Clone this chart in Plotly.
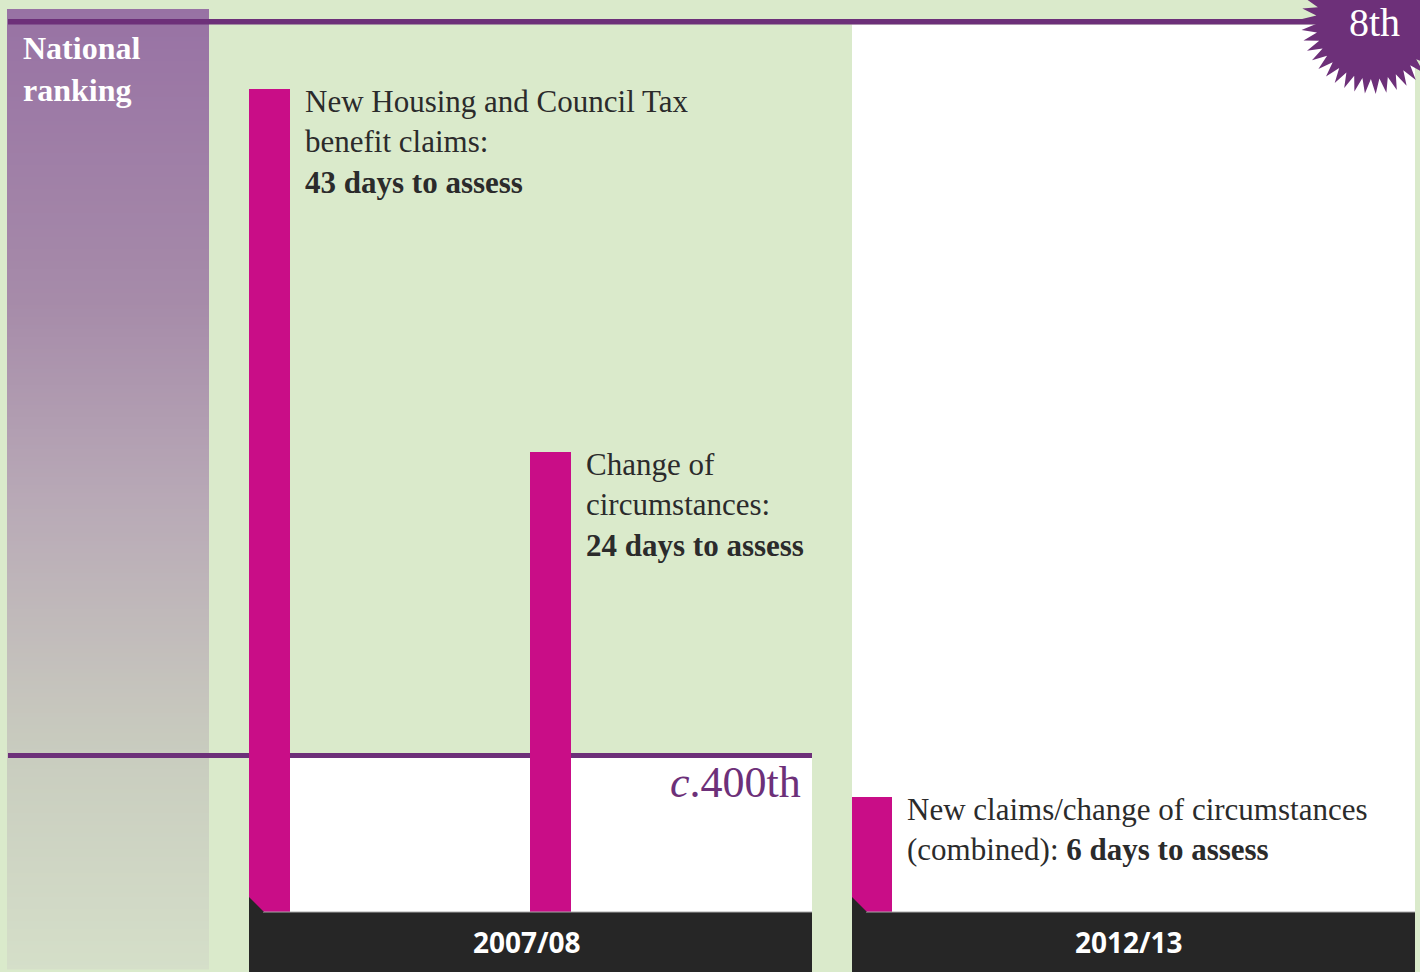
import numpy as np
import plotly.graph_objects as go

# ---- data ----
periods = ["2007/08", "2012/13"]
claim_types = [
    "New Housing and Council Tax benefit claims:",
    "Change of circumstances:",
    "New claims/change of circumstances (combined):",
]
days_to_assess = [43, 24, 6]
bar_period = ["2007/08", "2007/08", "2012/13"]
national_ranking = ["c.400th", "8th"]

# ---- canvas (pixel coordinates, y grows downward) ----
W, H = 1420, 972
BASE_Y = 912            # pixel row of the zero-day baseline
PX_PER_DAY = 19.15      # vertical scale of the day bars

BG = "#daeacb"
PURPLE = "#6d3079"
MAGENTA = "#c90d87"
DARK = "#262626"
TEXT = "#2b2b2b"
SERIF = "Liberation Serif"
SANS = "Open Sans"

bar_x = [269.5, 550.5, 872.0]     # bar centres
bar_w = [41, 41, 40]
label_x = [303, 584, 905]
band_x = {"2007/08": (249, 812), "2012/13": (852, 1415)}
band_label_x = {"2007/08": 527, "2012/13": 1129}

shapes = []

# left "National ranking" column with a vertical colour fade
stops_y = [9, 300, 500, 700, 760, 972]
stops_c = [(152, 114, 164), (166, 139, 169), (184, 169, 182),
           (198, 197, 189), (201, 205, 191), (213, 223, 201)]
edges = np.arange(9, H + 1, 4)
for y0, y1 in zip(edges[:-1], edges[1:]):
    ym = (y0 + y1) / 2
    rgb = [int(round(np.interp(ym, stops_y, [c[k] for c in stops_c]))) for k in range(3)]
    shapes.append(dict(type="rect", xref="x", yref="y", x0=7, x1=209, y0=y0, y1=y1 + 0.6,
                       fillcolor="rgb(%d,%d,%d)" % tuple(rgb), line_width=0, layer="below"))

# white panels
shapes.append(dict(type="rect", xref="x", yref="y", x0=852, x1=1415, y0=24.5, y1=BASE_Y,
                   fillcolor="white", line_width=0, layer="below"))
shapes.append(dict(type="rect", xref="x", yref="y", x0=249, x1=812, y0=757, y1=BASE_Y,
                   fillcolor="white", line_width=0, layer="below"))

# purple ranking rules
shapes.append(dict(type="rect", xref="x", yref="y", x0=8, x1=1330, y0=19, y1=24.5,
                   fillcolor=PURPLE, line_width=0, layer="below"))
shapes.append(dict(type="rect", xref="x", yref="y", x0=8, x1=812, y0=753, y1=758,
                   fillcolor=PURPLE, line_width=0, layer="below"))

# dark period bands with a thin light edge
for p in periods:
    xa, xb = band_x[p]
    shapes.append(dict(type="rect", xref="x", yref="y", x0=xa, x1=xb, y0=BASE_Y, y1=H,
                       fillcolor=DARK, line_width=0, layer="above"))
    shapes.append(dict(type="line", xref="x", yref="y", x0=xa + 14, x1=xb, y0=BASE_Y, y1=BASE_Y,
                       line=dict(color="#a8a8a8", width=1), layer="above"))
    # folded corner at the foot of the first bar in each band
    shapes.append(dict(type="path", xref="x", yref="y",
                       path=f"M {xa},{BASE_Y - 15} L {xa + 15},{BASE_Y} L {xa},{BASE_Y} Z",
                       fillcolor=DARK, line_width=0, layer="above"))

# starburst badge for the current ranking
n_spikes = 42
cx, cy, r_out, r_in = 1373, 22, 72, 57
ang = np.linspace(0, 2 * np.pi, 2 * n_spikes, endpoint=False) + np.pi / n_spikes / 2
rad = np.where(np.arange(2 * n_spikes) % 2 == 0, r_out, r_in)
pts = [(cx + r * np.cos(a), cy + r * np.sin(a)) for r, a in zip(rad, ang)]
star_path = "M " + " L ".join(f"{x:.1f},{y:.1f}" for x, y in pts) + " Z"
shapes.append(dict(type="path", xref="x", yref="y", path=star_path,
                   fillcolor=PURPLE, line_width=0, layer="above"))

fig = go.Figure()
fig.add_trace(go.Bar(
    x=bar_x, y=days_to_assess, width=bar_w, base=0,
    marker=dict(color=MAGENTA, line_width=0),
    yaxis="y2", hoverinfo="skip", showlegend=False,
))

annotations = []

label_lines = [
    f"New Housing and Council Tax<br>benefit claims:<br><b>{days_to_assess[0]} days to assess</b>",
    f"Change of<br>circumstances:<br><b>{days_to_assess[1]} days to assess</b>",
    f"New claims/change of circumstances<br>(combined): <b>{days_to_assess[2]} days to assess</b>",
]
for i, txt in enumerate(label_lines):
    annotations.append(dict(
        x=label_x[i], y=days_to_assess[i], xref="x", yref="y2",
        xanchor="left", yanchor="top", align="left", yshift=7,
        text=txt, showarrow=False, font=dict(family=SERIF, size=31, color=TEXT),
    ))

for p in periods:
    annotations.append(dict(
        x=band_label_x[p], y=942, xref="x", yref="y", xanchor="center", yanchor="middle",
        text=f"<b>{p}</b>", showarrow=False, font=dict(family=SANS, size=28, color="white"),
    ))

annotations.append(dict(
    x=21, y=69, xref="x", yref="y", xanchor="left", yanchor="middle", align="left",
    text="<b>National<br>ranking</b>", showarrow=False,
    font=dict(family=SERIF, size=32, color="white"),
))
annotations.append(dict(
    x=803, y=782, xref="x", yref="y", xanchor="right", yanchor="middle",
    text="<i>" + national_ranking[0][0] + "</i>" + national_ranking[0][1:], showarrow=False,
    font=dict(family=SERIF, size=44, color=PURPLE),
))
annotations.append(dict(
    x=1374, y=22, xref="x", yref="y", xanchor="center", yanchor="middle",
    text=national_ranking[1], showarrow=False,
    font=dict(family=SERIF, size=40, color="white"),
))

fig.update_layout(
    width=W, height=H, margin=dict(l=0, r=0, t=0, b=0),
    paper_bgcolor=BG, plot_bgcolor=BG,
    xaxis=dict(range=[0, W], visible=False, fixedrange=True),
    yaxis=dict(range=[H, 0], visible=False, fixedrange=True),
    yaxis2=dict(range=[-(H - BASE_Y) / PX_PER_DAY, BASE_Y / PX_PER_DAY],
                overlaying="y", visible=False, fixedrange=True),
    shapes=shapes, annotations=annotations, bargap=0,
)

fig.write_html("out.html", config={"displayModeBar": False})
